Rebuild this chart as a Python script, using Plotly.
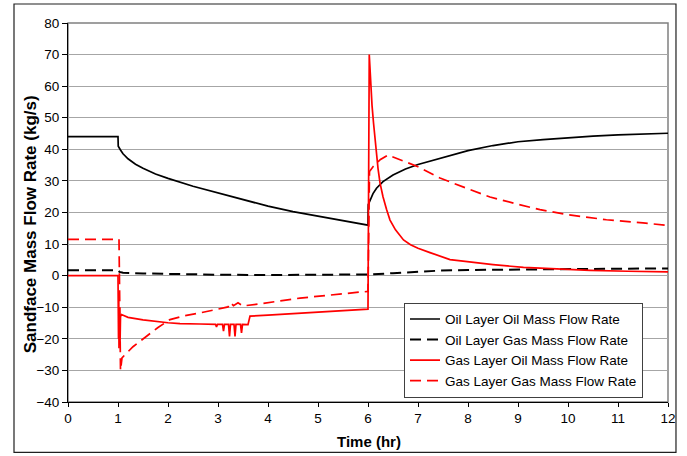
import plotly.graph_objects as go

# ---------------- data ----------------
t_oil_oil = [0, 1.0, 1.005, 1.02, 1.05, 1.1, 1.2, 1.35, 1.5, 1.75, 2.0, 2.5, 3.0, 3.5, 4.0, 4.5,
             5.0, 5.5, 6.0, 6.005, 6.04, 6.1, 6.17, 6.3, 6.5, 6.75, 7.0, 7.5, 8.0, 8.5, 9.0,
             9.5, 10.0, 10.5, 11.0, 11.5, 12.0]
v_oil_oil = [44, 44, 41, 40.5, 39.8, 38.6, 37.0, 35.3, 34.0, 32.2, 30.8, 28.3, 26.2, 24.0, 22.0, 20.3,
             18.8, 17.3, 16.0, 22.5, 24.0, 26.0, 27.7, 29.8, 31.9, 33.8, 35.2, 37.5, 39.6, 41.2, 42.4,
             43.1, 43.7, 44.2, 44.6, 44.9, 45.1]

t_oil_gas = [0, 1.0, 1.03, 1.1, 1.5, 2.0, 3.0, 4.0, 5.0, 6.0, 6.05, 6.5, 7.0, 7.44, 8.0, 9.0,
             10.0, 11.0, 12.0]
v_oil_gas = [1.7, 1.7, 1.2, 0.9, 0.7, 0.5, 0.3, 0.2, 0.2, 0.2, 0.4, 0.8, 1.2, 1.6, 1.8, 2.0,
             2.1, 2.2, 2.3]

t_gas_oil = [0, 1.0, 1.01, 1.015, 1.02, 1.03, 1.04, 1.05, 1.07, 1.2, 1.5, 2.0, 2.24, 2.64, 2.95,
             2.97, 2.99, 3.09, 3.11, 3.13, 3.21, 3.23, 3.25, 3.32, 3.34, 3.36, 3.45, 3.47, 3.49,
             3.6, 3.64, 4.0, 5.0, 5.84, 6.0, 6.025, 6.05, 6.08, 6.11, 6.15, 6.2, 6.24, 6.3, 6.37,
             6.44, 6.55, 6.71, 6.85, 7.0, 7.24, 7.44, 7.64, 7.9, 8.11, 8.5, 9.11, 9.7, 10.44,
             11.2, 12.0]
v_gas_oil = [0, 0, -20, -6, -23, -10, -22, -13, -12.3, -13.2, -14.0, -14.9, -15.2, -15.3, -15.4,
             -16.2, -15.4, -15.4, -17.6, -15.4, -15.4, -19.2, -15.4, -15.4, -19.2, -15.4, -15.4, -18.1, -15.4,
             -15.5, -12.8, -12.5, -11.5, -10.8, -10.6, 70.0, 62.0, 54.0, 48.4, 41.0, 34.0, 29.4, 25.0, 21.0,
             17.6, 14.5, 11.3, 9.8, 8.7, 7.3, 6.1, 5.1, 4.6, 4.2, 3.5, 2.6, 2.1, 1.7,
             1.4, 1.2]

t_gas_gas = [0, 1.0, 1.02, 1.05, 1.08, 1.3, 1.57, 1.8, 2.04, 2.3, 2.64, 3.0, 3.2, 3.25, 3.31, 3.4,
             3.5, 3.84, 4.64, 5.77, 6.0, 6.03, 6.1, 6.25, 6.4, 7.0, 7.24, 7.44, 8.0, 8.44, 9.0,
             9.44, 10.0, 10.77, 11.5, 12.0]
v_gas_gas = [11.5, 11.5, 11.5, -30, -26, -22.5, -19.2, -16.4, -13.9, -12.8, -11.8, -10.6, -9.9, -8.5, -9.5, -8.6,
             -9.6, -8.9, -7.1, -5.3, -5.0, 33.0, 34.5, 36.8, 38.2, 34.5, 32.6, 30.9, 27.5, 24.9, 22.6,
             20.9, 19.3, 17.7, 16.7, 15.9]

names = ["Oil Layer Oil Mass Flow Rate", "Oil Layer Gas Mass Flow Rate",
         "Gas Layer Oil Mass Flow Rate", "Gas Layer Gas Mass Flow Rate"]

x_ticks = list(range(0, 13))
y_ticks = list(range(-40, 81, 10))

x_title = "Time (hr)"
y_title = "Sandface Mass Flow Rate (kg/s)"

FONT = "Liberation Sans, Arial, sans-serif"

fig = go.Figure()
fig.add_trace(go.Scatter(x=t_oil_oil, y=v_oil_oil, mode="lines", name=names[0],
                         line=dict(color="black", width=1.7)))
fig.add_trace(go.Scatter(x=t_oil_gas, y=v_oil_gas, mode="lines", name=names[1],
                         line=dict(color="black", width=2, dash="11px,6px")))
fig.add_trace(go.Scatter(x=t_gas_oil, y=v_gas_oil, mode="lines", name=names[2],
                         line=dict(color="#ff0000", width=1.7)))
fig.add_trace(go.Scatter(x=t_gas_gas, y=v_gas_gas, mode="lines", name=names[3],
                         line=dict(color="#ff0000", width=1.7, dash="11px,6px")))

fig.update_layout(
    width=687, height=456,
    margin=dict(l=68, r=19, t=23, b=53.5, autoexpand=False),
    paper_bgcolor="white", plot_bgcolor="white",
    font=dict(family=FONT, size=13.5, color="black"),
    showlegend=True,
    legend=dict(x=0.56, y=0.262, xanchor="left", yanchor="top",
                bgcolor="white", bordercolor="#404040", borderwidth=1,
                font=dict(family=FONT, size=13.5, color="black"),
                tracegroupgap=0, itemwidth=30),
    xaxis=dict(range=[0, 12], tickvals=x_ticks, ticks="outside", ticklen=4,
               showgrid=False, zeroline=False, showline=True, linecolor="black", linewidth=1,
               tickcolor="black", automargin=False,
               tickfont=dict(family=FONT, size=13.5)),
    yaxis=dict(range=[-40, 80], tickvals=y_ticks, ticks="outside", ticklen=5,
               showgrid=True, gridcolor="#a6a6a6", gridwidth=1, zeroline=False,
               showline=True, linecolor="black", linewidth=1, tickcolor="black",
               automargin=False, tickfont=dict(family=FONT, size=13.5)),
    annotations=[
        dict(text="<b>" + x_title + "</b>", xref="paper", yref="paper", x=0.5017, y=-0.104,
             xanchor="center", yanchor="middle", showarrow=False,
             font=dict(family=FONT, size=15, color="black")),
        dict(text="<b>" + y_title + "</b>", xref="paper", yref="paper", x=-0.0633, y=0.469,
             xanchor="center", yanchor="middle", showarrow=False, textangle=-90,
             font=dict(family=FONT, size=17, color="black")),
    ],
    shapes=[
        # plot-area border (gray)
        dict(type="rect", xref="paper", yref="paper", x0=0, x1=1, y0=0, y1=1,
             line=dict(color="#808080", width=1.5), layer="below"),
        # outer chart border
        dict(type="rect", xref="paper", yref="paper", x0=-0.09, x1=1.0133, y0=-0.1331, y1=1.0501,
             line=dict(color="#202020", width=1.2)),
    ],
)

fig.write_html("out.html", config={"displayModeBar": False},
               post_script="document.body.style.margin='0';")
